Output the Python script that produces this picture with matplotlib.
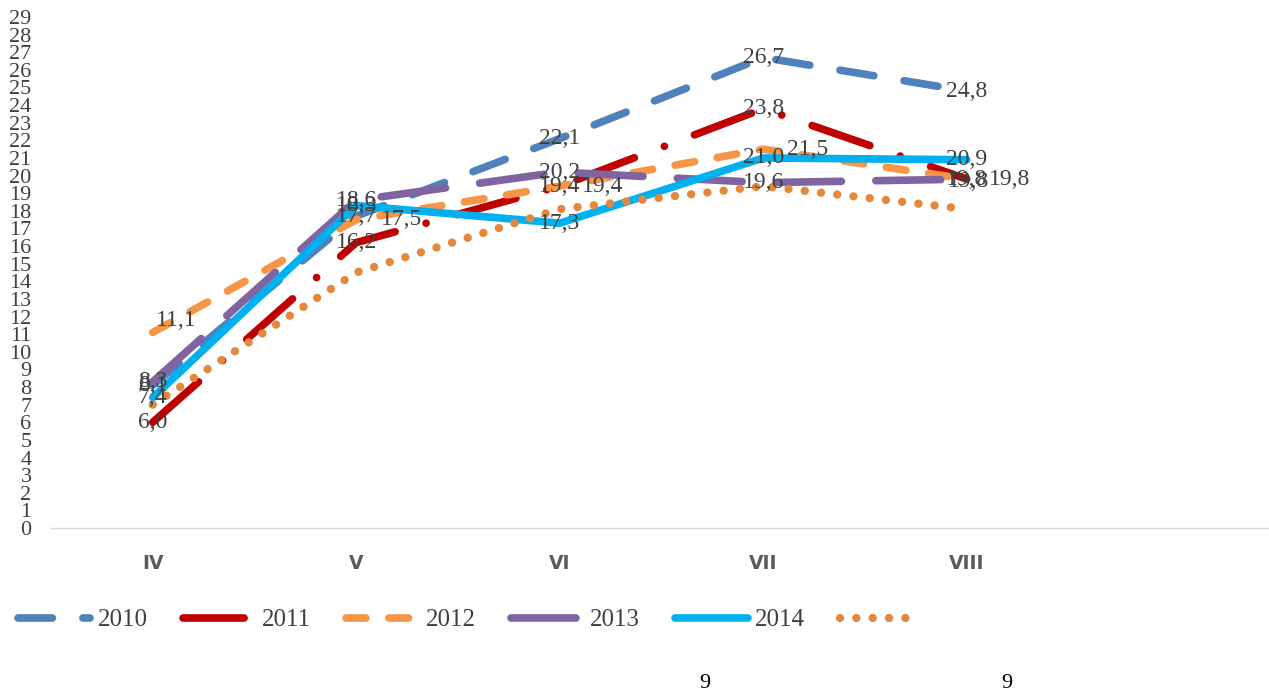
import matplotlib.pyplot as plt

# monthly values, April..August
months = ['IV', 'V', 'VI', 'VII', 'VIII']
t2010 = [8.1, 17.7, 22.1, 26.7, 24.8]
t2011 = [6.0, 16.2, 19.4, 23.8, 19.8]
t2012 = [11.1, 17.5, 19.4, 21.5, 19.8]
t2013 = [8.3, 18.6, 20.2, 19.6, 19.8]
t2014 = [7.4, 18.3, 17.3, 21.0, 20.9]
t_norm = [7.0, 14.5, 18.1, 19.4, 18.1]

series = [
    ('2010', t2010, '#4F81BD', (0, (4.5, 4.0))),
    ('2011', t2011, '#C00000', (0, (8.0, 4.2, 0.01, 4.2))),
    ('2012', t2012, '#F79646', (0, (2.6, 3.0))),
    ('2013', t2013, '#8064A2', (0, (8.5, 4.5))),
    ('2014', t2014, '#00B0F0', '-'),
]

# label nudges (pixels) where values collide
label_shift = {
    ('2012', 0): (23, 12),
    ('2012', 1): (45, 0),
    ('2012', 2): (43, 0),
    ('2012', 3): (44, 0),
    ('2012', 4): (43, 0),
    ('2011', 4): (2, -2),
}

W, H = 1269, 698
fig = plt.figure(figsize=(W / 100, H / 100), dpi=100)
ax = fig.add_axes([51 / W, (H - 528) / H, 1221 / W, 528.6 / H])

x = list(range(len(months)))
handles = []
for name, vals, color, ls in series:
    line, = ax.plot(x, vals, color=color, lw=5.5, linestyle=ls,
                    dash_capstyle='round', solid_capstyle='round',
                    solid_joinstyle='round', dash_joinstyle='round')
    handles.append(line)

dots, = ax.plot(x, t_norm, color='#E3883D', lw=6, linestyle=(0, (0.01, 1.95)),
                dash_capstyle='round')
handles.append(dots)

for name, vals, color, ls in series:
    for i, v in enumerate(vals):
        dx, dy = label_shift.get((name, i), (0, 0))
        ax.annotate(f'{v:.1f}'.replace('.', ','), (i, v),
                    xytext=(dx * 0.72, dy * 0.72), textcoords='offset points',
                    ha='center', va='center', fontsize=17,
                    family='Liberation Serif', color='#404040', zorder=10)

ax.set_xlim(-0.5, 5.5)
ax.set_ylim(0, 30)
ax.set_xticks(x)
ax.set_xticklabels(months, fontsize=13.5, fontweight='bold',
                   family='DejaVu Sans', color='#595959')
ax.set_yticks(range(0, 30))
ax.set_yticklabels([str(v) for v in range(0, 30)], fontsize=16,
                   family='Liberation Serif', color='#404040')
ax.tick_params(axis='x', length=0, pad=19)
ax.tick_params(axis='y', length=0, pad=14)

for side in ('left', 'top', 'right'):
    ax.spines[side].set_visible(False)
ax.spines['bottom'].set_color('#D9D9D9')
ax.spines['bottom'].set_linewidth(1)

ax.legend(handles, ['2010', '2011', '2012', '2013', '2014', ' '],
          loc='center left', bbox_to_anchor=(18 / W, 78 / H),
          bbox_transform=fig.transFigure, ncol=6, frameon=False,
          handlelength=2.9, handletextpad=0.28, columnspacing=1.4,
          borderaxespad=0, borderpad=0, labelcolor='#404040',
          prop=dict(family='Liberation Serif', size=18))

# page numbers below the chart
fig.text(705 / W, 1 - 683 / H, '9', ha='center', va='center', fontsize=16,
         family='Liberation Serif', color='black')
fig.text(1007 / W, 1 - 683 / H, '9', ha='center', va='center', fontsize=16,
         family='Liberation Serif', color='black')

fig.savefig('out.png', dpi=100)
